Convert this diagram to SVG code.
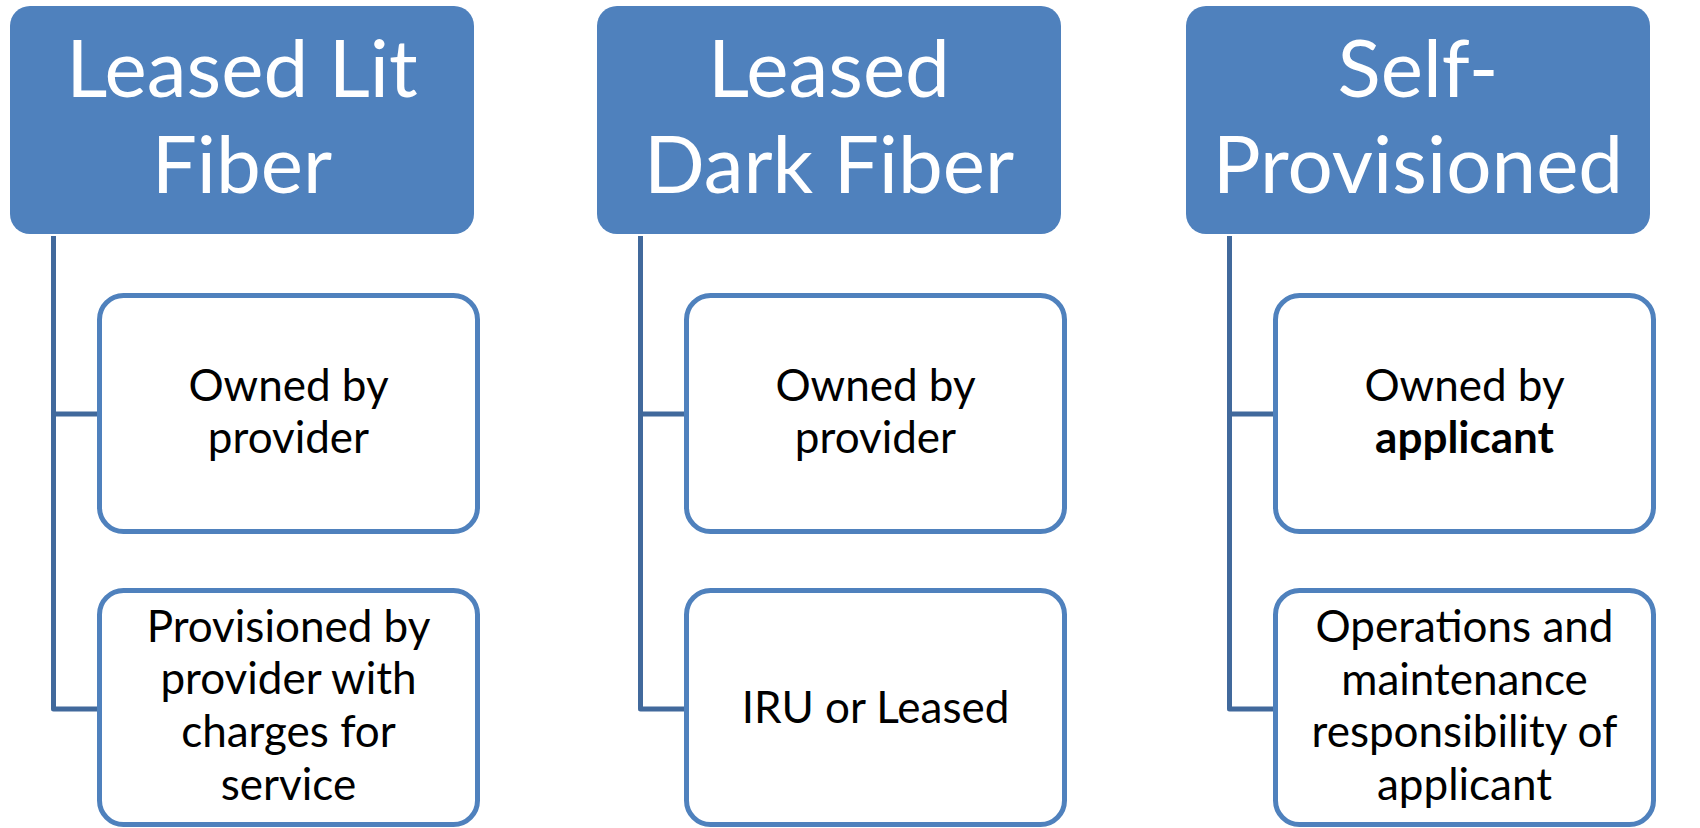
<svg xmlns="http://www.w3.org/2000/svg" width="1700" height="828" viewBox="0 0 1700 828">
<style>
.hdr{fill:#4F81BD}
.hdrt{fill:#fff;font-family:Lato,"Open Sans",sans-serif;font-size:80px;text-anchor:middle}
.box{fill:#fff;stroke:#4F81BD;stroke-width:5}
.boxt{fill:#000;font-family:Lato,"Open Sans",sans-serif;font-size:44px;text-anchor:middle}
.conn{fill:none;stroke:#41699C;stroke-width:5;stroke-linejoin:round}
</style>
<rect width="1700" height="828" fill="#fff"/>
<g id="connectors">
<path class="conn" d="M53.5,236 V709 H99.5 M53.5,414 H99.5"/>
<path class="conn" d="M640.5,236 V709 H686.5 M640.5,414 H686.5"/>
<path class="conn" d="M1229.5,236 V709 H1275.5 M1229.5,414 H1275.5"/>
</g>
<g id="h1"><rect class="hdr" x="10" y="6" width="464" height="228" rx="20"/>
<text class="hdrt" x="242" y="97">Leased Lit</text><text class="hdrt" x="242" y="193">Fiber</text></g>
<g id="h2"><rect class="hdr" x="597" y="6" width="464" height="228" rx="20"/>
<text class="hdrt" x="829" y="97">Leased</text><text class="hdrt" x="829" y="193">Dark Fiber</text></g>
<g id="h3"><rect class="hdr" x="1186" y="6" width="464" height="228" rx="20"/>
<text class="hdrt" x="1418" y="97">Self-</text><text class="hdrt" x="1418" y="193">Provisioned</text></g>
<g id="c1a"><rect class="box" x="99.5" y="295.5" width="378" height="236" rx="24"/>
<text class="boxt" x="288.5" y="401">Owned by</text><text class="boxt" x="288.5" y="453">provider</text></g>
<g id="c1b"><rect class="box" x="99.5" y="590.5" width="378" height="234" rx="24"/>
<text class="boxt" x="288.5" y="642">Provisioned by</text><text class="boxt" x="288.5" y="694">provider with</text><text class="boxt" x="288.5" y="747">charges for</text><text class="boxt" x="288.5" y="800">service</text></g>
<g id="c2a"><rect class="box" x="686.5" y="295.5" width="378" height="236" rx="24"/>
<text class="boxt" x="875.5" y="401">Owned by</text><text class="boxt" x="875.5" y="453">provider</text></g>
<g id="c2b"><rect class="box" x="686.5" y="590.5" width="378" height="234" rx="24"/>
<text class="boxt" x="875.5" y="723">IRU or Leased</text></g>
<g id="c3a"><rect class="box" x="1275.5" y="295.5" width="378" height="236" rx="24"/>
<text class="boxt" x="1464.5" y="401">Owned by</text><text class="boxt" x="1464.5" y="453" font-weight="bold">applicant</text></g>
<g id="c3b"><rect class="box" x="1275.5" y="590.5" width="378" height="234" rx="24"/>
<text class="boxt" x="1464.5" y="642">Operations and</text><text class="boxt" x="1464.5" y="695">maintenance</text><text class="boxt" x="1464.5" y="747">responsibility of</text><text class="boxt" x="1464.5" y="800">applicant</text></g>
</svg>
